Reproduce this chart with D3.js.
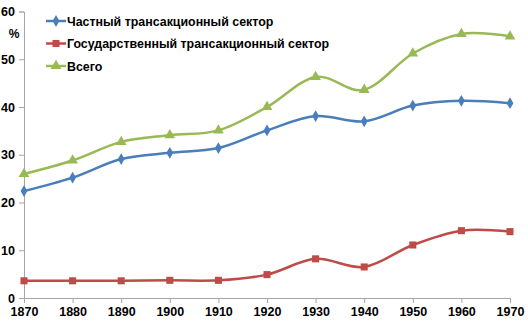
<!DOCTYPE html>
<html>
<head>
<meta charset="utf-8">
<script src="https://cdn.jsdelivr.net/npm/d3@7"></script>
<style>
  body { margin: 0; background: #fff; }
  svg text { font-family: "Liberation Sans", Arial, sans-serif; font-weight: bold; fill: #000; }
</style>
</head>
<body>
<div id="chart"></div>
<script>
// data
const years = [1870, 1880, 1890, 1900, 1910, 1920, 1930, 1940, 1950, 1960, 1970]
const privateSector = [22.4, 25.2, 29.1, 30.4, 31.4, 35.1, 38.1, 37.0, 40.3, 41.3, 40.8]
const stateSector = [3.6, 3.6, 3.6, 3.7, 3.7, 4.9, 8.2, 6.5, 11.1, 14.1, 13.9]
const totalSector = [26.0, 28.8, 32.7, 34.1, 35.1, 40.0, 46.3, 43.6, 51.2, 55.3, 54.8]
const seriesNames = ["Частный трансакционный сектор", "Государственный трансакционный сектор", "Всего"]
const yTicks = [0, 10, 20, 30, 40, 50, 60]

const W = 528, H = 324
const margin = { top: 11.5, right: 18, bottom: 26, left: 24 }
const width = W - margin.left - margin.right
const height = H - margin.top - margin.bottom

const svg = d3.select("#chart").append("svg")
    .attr("width", W)
    .attr("height", H)

const g = svg.append("g")
    .attr("transform", "translate(" + margin.left + "," + margin.top + ")")

const x = d3.scaleLinear().domain([1870, 1970]).range([0, width])
const y = d3.scaleLinear().domain([0, 60]).range([height, 0])

// y axis
const yAxis = g.append("g")
    .call(d3.axisLeft(y).tickValues(yTicks).tickSize(5).tickPadding(4))
yAxis.select(".domain").attr("stroke", "#a6a6a6")
yAxis.selectAll(".tick line").attr("stroke", "#a6a6a6")
yAxis.selectAll(".tick text").attr("font-size", 12.5)

// x axis
const xAxis = g.append("g")
    .attr("transform", `translate(0,${height})`)
    .call(d3.axisBottom(x).tickValues(years).tickFormat(d3.format("d")).tickSize(5).tickPadding(4))
xAxis.select(".domain").attr("stroke", "#a6a6a6")
xAxis.selectAll(".tick line").attr("stroke", "#a6a6a6")
xAxis.selectAll(".tick text").attr("font-size", 12.5)

// % label
svg.append("text")
    .attr("x", 14).attr("y", 38)
    .attr("text-anchor", "middle")
    .attr("font-size", 12)
    .text("%")

const series = [
    { name: seriesNames[0], values: privateSector, color: "#4A7EBB", shape: d3.symbolDiamond, size: 40 },
    { name: seriesNames[1], values: stateSector, color: "#BE4B48", shape: d3.symbolSquare, size: 50 },
    { name: seriesNames[2], values: totalSector, color: "#98B954", shape: d3.symbolTriangle, size: 50 }
]

const line = d3.line()
    .curve(d3.curveCardinal.tension(0))
    .x(function(d, i) { return x(years[i]) })
    .y(function(d) { return y(d) })

for (let s of series) {
    g.append("path")
        .datum(s.values)
        .attr("fill", "none")
        .attr("stroke", s.color)
        .attr("stroke-width", 2.5)
        .attr("d", line)

    g.selectAll(null)
        .data(s.values)
        .enter().append("path")
        .attr("transform", function(d, i) { return "translate(" + x(years[i]) + "," + y(d) + ")" })
        .attr("d", d3.symbol().type(s.shape).size(s.size))
        .attr("fill", s.color)
}

// legend
const legend = svg.append("g").attr("transform", "translate(46,21)")
series.forEach(function(s, i) {
    const row = legend.append("g").attr("transform", "translate(0," + (i * 22.5) + ")")
    row.append("line")
        .attr("x1", 0).attr("x2", 20)
        .attr("stroke", s.color).attr("stroke-width", 2.5)
    row.append("path")
        .attr("transform", "translate(10,0)")
        .attr("d", d3.symbol().type(s.shape).size(s.size))
        .attr("fill", s.color)
    row.append("text")
        .attr("x", 21).attr("y", 4.5)
        .attr("font-size", 12.4)
        .text(s.name)
})
</script>
</body>
</html>
